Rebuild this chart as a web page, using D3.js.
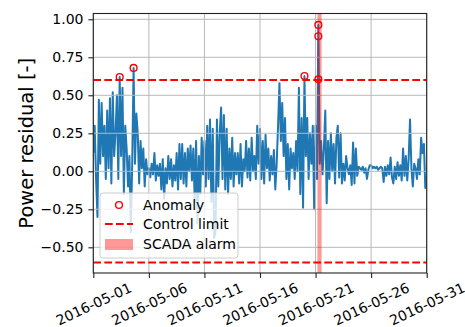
<!DOCTYPE html>
<html>
<head>
<meta charset="utf-8">
<script src="https://cdnjs.cloudflare.com/ajax/libs/d3/7.8.5/d3.min.js"></script>
<style>
  body { margin: 0; background: #fff; }
  svg { display: block; font-family: "DejaVu Sans", sans-serif; }
</style>
</head>
<body>
<div id="chart"></div>
<script>
// power residual, one value every 3 hours starting 2016-05-01 00:00 (8 per day)
var seriesStart = "2016-05-01 00:00";
var stepHours = 3;
var residual = [
  0.12, 0.30, -0.05, -0.30, 0.47, 0.05, 0.45, 0.10,     // 05-01
  0.30, -0.05, 0.40, 0.02, 0.48, -0.08, 0.52, 0.10,     // 05-02
  0.25, 0.50, -0.05, 0.62, 0.10, 0.55, -0.15, 0.30,     // 05-03
  0.15, -0.10, 0.10, -0.40, 0.05, 0.68, 0.05, 0.38,     // 05-04
  0.25, -0.08, 0.20, 0.02, 0.15, -0.10, 0.08, -0.02,    // 05-05
  0.02, -0.04, 0.05, -0.02, 0.12, -0.06, 0.04, -0.03,   // 05-06
  0.05, -0.12, 0.08, -0.18, 0.02, -0.08, 0.10, -0.05,   // 05-07
  0.08, -0.10, 0.04, -0.06, 0.12, -0.12, 0.18, -0.05,   // 05-08
  0.18, -0.08, 0.12, -0.10, 0.15, 0.00, 0.17, -0.06,    // 05-09
  0.15, -0.20, 0.20, -0.34, 0.10, -0.15, 0.22, -0.02,   // 05-10
  0.20, -0.10, 0.30, -0.05, 0.34, -0.20, 0.28, -0.44,   // 05-11
  -0.40, 0.34, -0.10, 0.25, 0.42, -0.05, 0.37, -0.12,   // 05-12
  0.28, -0.15, 0.15, -0.05, 0.22, -0.10, 0.12, -0.02,   // 05-13
  0.12, -0.08, 0.18, -0.10, 0.08, 0.00, 0.20, -0.04,    // 05-14
  0.15, -0.06, 0.22, 0.00, 0.10, -0.05, 0.30, 0.05,     // 05-15
  0.28, -0.05, 0.20, -0.08, 0.24, 0.02, 0.15, -0.06,    // 05-16
  0.10, -0.02, 0.14, -0.12, 0.05, 0.30, 0.58, 0.20,     // 05-17
  0.45, 0.10, 0.35, -0.05, 0.18, -0.12, 0.15, 0.02,     // 05-18
  0.12, -0.05, 0.20, 0.00, 0.55, -0.15, 0.35, -0.24,    // 05-19
  0.627, 0.10, 0.35, -0.05, 0.25, 0.05, 0.30, -0.25,    // 05-20
  0.30, -0.05, 0.963, 0.05, 0.20, -0.02, 0.15, 0.40,    // 05-21
  -0.21, 0.20, -0.05, 0.25, 0.00, 0.18, -0.08, 0.22,    // 05-22
  0.30, -0.04, 0.25, -0.08, 0.05, -0.06, 0.10, 0.02,    // 05-23
  -0.02, 0.04, -0.09, 0.19, -0.08, 0.15, -0.03, 0.03,   // 05-24
  0.02, 0.01, 0.03, -0.01, 0.02, -0.05, 0.01, 0.04,     // 05-25
  0.04, 0.02, 0.03, 0.02, 0.03, 0.01, 0.02, 0.03,       // 05-26
  0.02, -0.07, 0.03, -0.03, 0.04, -0.02, 0.09, -0.04,   // 05-27
  -0.08, 0.03, -0.05, 0.06, -0.03, 0.04, -0.06, 0.15,   // 05-28
  -0.03, 0.10, -0.06, 0.08, 0.34, 0.02, -0.10, 0.05,    // 05-29
  0.02, -0.05, 0.08, -0.02, 0.22, 0.12, 0.18, -0.11,    // 05-30
  -0.08
];

var anomalyTimes = ["2016-05-03 09:00", "2016-05-04 15:00", "2016-05-20 00:00",
                    "2016-05-21 06:00", "2016-05-21 06:00", "2016-05-21 06:00"];
var anomalyValues = [0.62, 0.68, 0.627, 0.963, 0.888, 0.605];

var controlLimit = 0.6;
var scadaAlarm = ["2016-05-21 04:00", "2016-05-21 13:00"];

var xTickLabels = ["2016-05-01", "2016-05-06", "2016-05-11", "2016-05-16",
                   "2016-05-21", "2016-05-26", "2016-05-31"];
var yTicks = [-0.5, -0.25, 0, 0.25, 0.5, 0.75, 1.0];
var legendLabels = ["Anomaly", "Control limit", "SCADA alarm"];

// set the dimensions and margins of the graph
var margin = {top: 13.5, right: 38.3, bottom: 54, left: 93.3},
    width = 465 - margin.left - margin.right,
    height = 327 - margin.top - margin.bottom;

var parseTime = d3.utcParse("%Y-%m-%d %H:%M");
var parseDay = d3.utcParse("%Y-%m-%d");
var t0 = parseTime(seriesStart);
var timeAt = function(i) { return d3.utcHour.offset(t0, i * stepHours); };

var svg = d3.select("#chart")
  .append("svg")
    .attr("width", 465)
    .attr("height", 327)
  .append("g")
    .attr("transform", "translate(" + margin.left + "," + margin.top + ")");

var x = d3.scaleUtc()
  .domain([parseDay(xTickLabels[0]), parseDay(xTickLabels[xTickLabels.length - 1])])
  .range([0, width]);

var y = d3.scaleLinear()
  .domain([-0.669, 1.038])
  .range([height, 0]);

svg.append("clipPath").attr("id", "plot-clip")
  .append("rect").attr("width", width).attr("height", height);

// series
svg.append("path")
  .datum(residual)
  .attr("clip-path", "url(#plot-clip)")
  .attr("fill", "none")
  .attr("stroke", "#1f77b4")
  .attr("stroke-width", 2)
  .attr("stroke-linejoin", "round")
  .attr("d", d3.line()
    .x(function(d, i) { return x(timeAt(i)); })
    .y(function(d) { return y(d); }));

// grid
var grid = svg.append("g").attr("stroke", "#b8b8b8").attr("stroke-width", 1);
grid.selectAll(".gy").data(yTicks).enter().append("line")
  .attr("x1", 0).attr("x2", width)
  .attr("y1", function(d) { return y(d); }).attr("y2", function(d) { return y(d); });
grid.selectAll(".gx").data(xTickLabels).enter().append("line")
  .attr("y1", 0).attr("y2", height)
  .attr("x1", function(d) { return x(parseDay(d)); }).attr("x2", function(d) { return x(parseDay(d)); });

// SCADA alarm band
svg.append("rect")
  .attr("x", x(parseTime(scadaAlarm[0])))
  .attr("width", x(parseTime(scadaAlarm[1])) - x(parseTime(scadaAlarm[0])))
  .attr("y", 0).attr("height", height)
  .attr("fill", "red").attr("fill-opacity", 0.4);

// control limits
svg.selectAll(".limit").data([controlLimit, -controlLimit]).enter().append("line")
  .attr("x1", 0).attr("x2", width)
  .attr("y1", function(d) { return y(d); }).attr("y2", function(d) { return y(d); })
  .attr("stroke", "red").attr("stroke-width", 2)
  .attr("stroke-dasharray", "7.7,3.3");

// anomalies
svg.selectAll(".anom").data(anomalyValues).enter().append("circle")
  .attr("cx", function(d, i) { return x(parseTime(anomalyTimes[i])); })
  .attr("cy", function(d) { return y(d); })
  .attr("r", 3.4)
  .attr("fill", "none").attr("stroke", "red").attr("stroke-width", 1.4);

// axes
var xAxis = svg.append("g")
  .attr("transform", "translate(0," + height + ")")
  .call(d3.axisBottom(x)
    .tickValues(xTickLabels.map(parseDay))
    .tickFormat(d3.utcFormat("%Y-%m-%d"))
    .tickSize(4.9).tickPadding(4.9));
xAxis.select(".domain").remove();
xAxis.selectAll("text")
  .attr("y", 0).attr("dy", "0.35em")
  .attr("text-anchor", "middle")
  .attr("transform", "translate(0,31) rotate(-25)");

var yAxis = svg.append("g")
  .call(d3.axisLeft(y)
    .tickValues(yTicks)
    .tickFormat(d3.format(".2f"))
    .tickSize(4.9).tickPadding(4.9));
yAxis.select(".domain").remove();

svg.selectAll(".tick text").style("font-size", "14px").attr("fill", "#000")
  .style("font-family", "DejaVu Sans");
svg.selectAll(".tick line").attr("stroke", "#222").attr("stroke-width", 1.1);

// spines
svg.append("rect")
  .attr("width", width).attr("height", height)
  .attr("fill", "none").attr("stroke", "#222").attr("stroke-width", 1.1);

// y label
svg.append("text")
  .attr("transform", "translate(" + (33 - margin.left) + "," + (height / 2) + ") rotate(-90)")
  .attr("text-anchor", "middle")
  .style("font-size", "19.5px")
  .text("Power residual [-]");

// legend
var lg = svg.append("g").attr("transform", "translate(" + (100 - margin.left) + "," + (193 - margin.top) + ")");
lg.append("rect")
  .attr("width", 138).attr("height", 65).attr("rx", 3)
  .attr("fill", "white").attr("fill-opacity", 0.8)
  .attr("stroke", "#cccccc").attr("stroke-width", 1);
lg.append("circle").attr("cx", 19).attr("cy", 12).attr("r", 3.4)
  .attr("fill", "none").attr("stroke", "red").attr("stroke-width", 1.4);
lg.append("line").attr("x1", 5).attr("x2", 33).attr("y1", 31).attr("y2", 31)
  .attr("stroke", "red").attr("stroke-width", 2).attr("stroke-dasharray", "7.7,3.3");
lg.append("rect").attr("x", 5).attr("y", 46).attr("width", 28).attr("height", 11)
  .attr("fill", "red").attr("fill-opacity", 0.4);
lg.selectAll(".ltext").data(legendLabels).enter().append("text")
  .attr("x", 43)
  .attr("y", function(d, i) { return 12 + i * 19.3; })
  .attr("dy", "0.35em")
  .style("font-size", "14px")
  .text(function(d) { return d; });
</script>
</body>
</html>
